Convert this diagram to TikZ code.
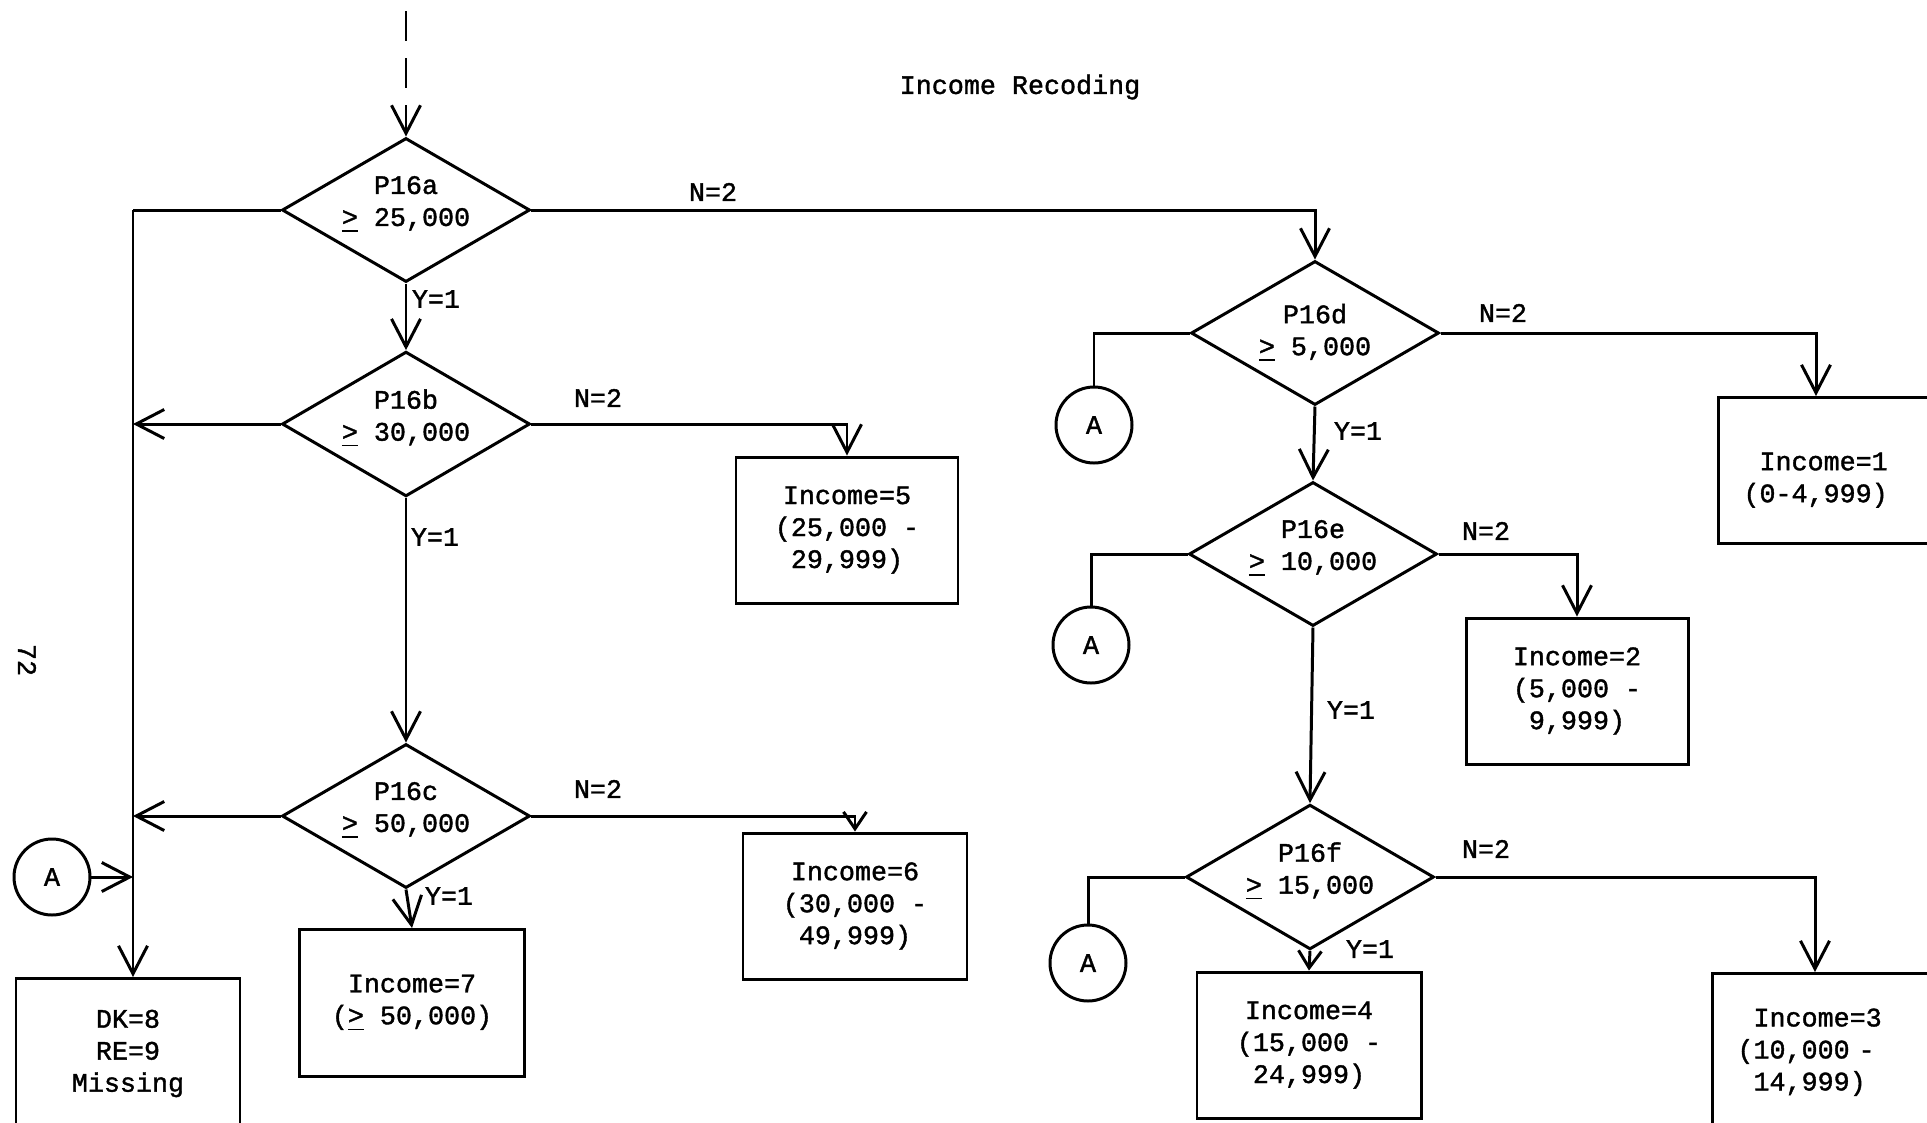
\documentclass[tikz,border=0pt]{standalone}
\usepackage{fontspec}
\setmainfont{Liberation Mono}[FakeBold=1.4]
\usetikzlibrary{arrows.meta, shapes.geometric, positioning, calc}
% extra depth under the second line of a decision
\newcommand{\lowdepth}{\rule[-0.18cm]{0pt}{0.1cm}}

\begin{document}
\begin{tikzpicture}[
  line width=0.85pt,
  every node/.style={font=\fontsize{7.6}{9.1}\selectfont},
  decision/.style={draw, diamond, aspect=1.7, inner sep=0pt, minimum width=2.48cm, minimum height=1.44cm, align=center},
  outbox/.style={draw, rectangle, inner sep=0pt, minimum width=2.22cm, minimum height=1.46cm, align=center},
  edgebox/.style={draw, rectangle, inner xsep=0.25cm, inner ysep=0pt, text width=2.6cm, minimum height=1.46cm, align=left, anchor=north west},
  connector/.style={draw, circle, minimum size=0.76cm, inner sep=0pt},
  branch/.style={inner sep=1pt},
  arrow/.style={-{Straight Barb[length=2.8mm, width=2.9mm]}},
  shortarrow/.style={-{Straight Barb[length=1.7mm, width=2.3mm]}},
]
\useasboundingbox (0,0) rectangle (19.27,-11.22);

% Title and page number
\node (title) at (10.20,-0.87) {Income Recoding};
\node[rotate=-90] (pagenum) at (0.27,-6.60) {72};

% Decisions
\node[decision] (p16a) at (4.06,-2.10) {P16a\\\underline{>} 25,000\lowdepth};
\node[decision] (p16b) at (4.06,-4.24) {P16b\\\underline{>} 30,000\lowdepth};
\node[decision] (p16c) at (4.06,-8.16) {P16c\\\underline{>} 50,000\lowdepth};
\node[decision] (p16d) at (13.15,-3.33) {P16d\\\underline{>} 5,000};
\node[decision] (p16e) at (13.13,-5.54) {P16e\\\underline{>} 10,000\lowdepth};
\node[decision] (p16f) at (13.10,-8.77) {P16f\\\underline{>} 15,000\lowdepth};

% Recoded values
\node[outbox] (inc5) at (8.47,-5.30) {Income=5\\(25,000 -\\29,999)};
\node[outbox, minimum width=2.24cm] (inc6) at (8.55,-9.06) {Income=6\\(30,000 -\\49,999)};
\node[outbox, minimum width=2.25cm, minimum height=1.47cm] (inc7) at (4.12,-10.03) {Income=7\\(\underline{>} 50,000)};
\node[outbox, minimum width=2.24cm, minimum height=1.5cm, anchor=north] (dk) at (1.28,-9.77) {DK=8\\RE=9\\Missing};
\node[outbox] (inc2) at (15.77,-6.91) {Income=2\\(5,000 -\\9,999)};
\node[outbox, minimum width=2.24cm] (inc4) at (13.09,-10.45) {Income=4\\(15,000 -\\24,999)};
\node[edgebox] (inc1) at (17.17,-3.96) {\rule{0pt}{0.37cm}\phantom{(}Income=1\\(0-4,999)};
\node[edgebox, minimum height=1.56cm] (inc3) at (17.11,-9.72) {\phantom{(}Income=3\\(10,000 -\\\phantom{(}14,999)};

% Off-page connectors
\node[connector] (ca) at (0.52,-8.77) {A};
\node[connector] (cd) at (10.94,-4.25) {A};
\node[connector] (ce) at (10.91,-6.45) {A};
\node[connector] (cf) at (10.88,-9.63) {A};

% Entry
\coordinate (entry) at (4.06,-0.11);
\draw[arrow, dash pattern=on 3mm off 1.7mm] (entry) -- (p16a.north);

% Missing trunk on the left
\coordinate (trunk) at (1.33,-2.10);
\draw (p16a.west) -- (trunk);
\draw[arrow] (trunk) -- (trunk |- dk.north);
\draw[arrow] (p16b.west) -- (p16b.west -| trunk);
\draw[arrow] (p16c.west) -- (p16c.west -| trunk);
\draw[arrow] (ca.east) -- (ca.east -| trunk);

% Yes branches
\draw[arrow] (p16a.south) -- (p16b.north);
\draw[arrow] (p16b.south) -- (p16c.north);
\draw[arrow] (p16c.south) -- (inc7.north);
\draw[arrow] (p16d.south) -- (p16e.north);
\draw[arrow] (p16e.south) -- (p16f.north);
\draw[shortarrow] (p16f.south) -- (inc4.north);

% No branches
\draw[arrow] (p16a.east) -| (p16d.north);
\draw[arrow] (p16b.east) -| (inc5.north);
\draw[shortarrow] (p16c.east) -| (inc6.north);
\draw[arrow] (p16d.east) -| ([xshift=0.99cm]inc1.north west);
\draw[arrow] (p16e.east) -| (inc2.north);
\draw[arrow] (p16f.east) -| ([xshift=1.04cm]inc3.north west);

% Lines to connectors
\draw (p16d.west) -| (cd.north);
\draw (p16e.west) -| (ce.north);
\draw (p16f.west) -| (cf.north);

% Branch labels
\node[branch] (na) at (7.13,-1.92) {N=2};
\node[branch] (ya) at (4.36,-2.99) {Y=1};
\node[branch] (nb) at (5.98,-3.98) {N=2};
\node[branch] (yb) at (4.35,-5.37) {Y=1};
\node[branch] (nc) at (5.98,-7.89) {N=2};
\node[branch] (yc) at (4.49,-8.96) {Y=1};
\node[branch] (nd) at (15.03,-3.13) {N=2};
\node[branch] (yd) at (13.58,-4.31) {Y=1};
\node[branch] (ne) at (14.86,-5.31) {N=2};
\node[branch] (ye) at (13.51,-7.10) {Y=1};
\node[branch] (nf) at (14.86,-8.49) {N=2};
\node[branch] (yf) at (13.70,-9.49) {Y=1};
\end{tikzpicture}
\end{document}
